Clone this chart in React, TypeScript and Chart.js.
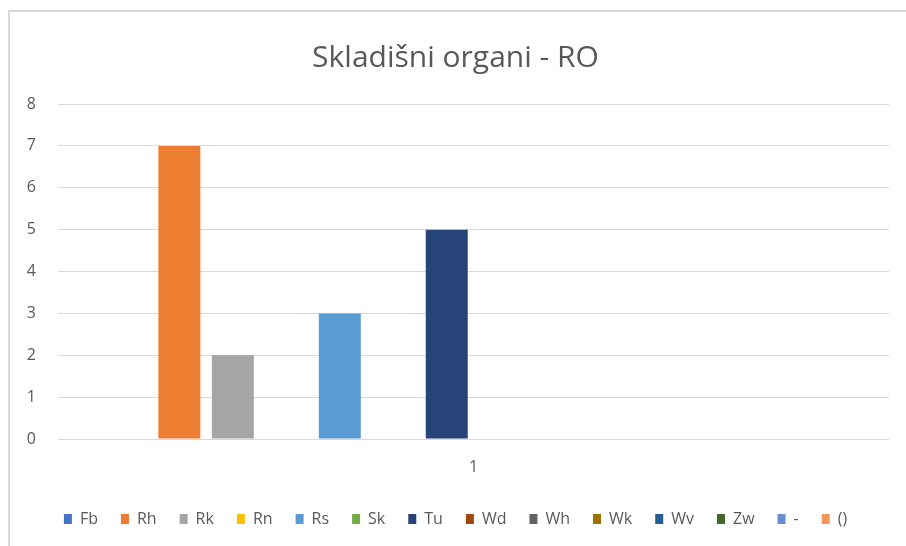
import React, { useEffect, useRef } from "react";
import { Chart, registerables } from "chart.js";

Chart.register(...registerables);

const categories = ["1"];
const seriesNames = ["Fb", "Rh", "Rk", "Rn", "Rs", "Sk", "Tu", "Wd", "Wh", "Wk", "Wv", "Zw", "-", "()"];
const seriesValues = [0, 7, 2, 0, 3, 0, 5, 0, 0, 0, 0, 0, 0, 0];
const seriesColors = [
  "#4472C4", "#ED7D31", "#A5A5A5", "#FFC000", "#5B9BD5", "#70AD47", "#264478",
  "#9E480E", "#636363", "#997300", "#255E91", "#43682B", "#698ED0", "#F1975A",
];
const yTicks = [0, 1, 2, 3, 4, 5, 6, 7, 8];
const titleText = "Skladišni organi - RO";

const FONT = "'Open Sans', sans-serif";
const TEXT = "#595959";

export default function App() {
  const ref = useRef<HTMLCanvasElement | null>(null);

  useEffect(() => {
    if (!ref.current) return;
    const chart = new Chart(ref.current, {
      type: "bar",
      data: {
        labels: categories,
        datasets: seriesNames.map((name, i) => ({
          label: name,
          data: [seriesValues[i]],
          backgroundColor: seriesColors[i],
          borderWidth: 0,
          categoryPercentage: 0.901,
          barPercentage: 0.785,
        })),
      },
      options: {
        responsive: false,
        animation: false,
        layout: { padding: { left: 22, right: 17, top: 0, bottom: 9 } },
        plugins: {
          title: {
            display: true,
            text: titleText,
            color: TEXT,
            font: { family: FONT, size: 30, weight: "normal" },
            padding: { top: 40, bottom: 28 },
          },
          legend: {
            position: "bottom",
            labels: {
              color: TEXT,
              font: { family: FONT, size: 16 },
              boxWidth: 8,
              boxHeight: 10,
              padding: 23,
            },
          },
          tooltip: { enabled: false },
        },
        scales: {
          x: {
            grid: { display: false, drawTicks: false },
            border: { display: false },
            ticks: { color: TEXT, font: { family: FONT, size: 16 }, padding: 19 },
            afterFit: (s: any) => { s.height = 49; },
          },
          y: {
            min: 0,
            max: 8,
            afterBuildTicks: (s: any) => { s.ticks = yTicks.map((v) => ({ value: v })); },
            grid: { color: "#d9d9d9", lineWidth: 1, drawTicks: false },
            border: { display: false },
            ticks: { color: TEXT, font: { family: FONT, size: 16 }, padding: 22 },
            afterFit: (s: any) => { s.width = 36; },
          },
        },
      },
    });
    return () => chart.destroy();
  }, []);

  return (
    <div style={{ position: "fixed", left: 0, top: 0, width: 906, height: 546, background: "#fff" }}>
      <canvas ref={ref} width={906} height={546} style={{ position: "absolute", left: 0, top: 0 }} />
      <div
        style={{
          position: "absolute",
          left: 8,
          top: 10,
          width: 898,
          height: 536,
          borderLeft: "2px solid #d9d9d9",
          borderTop: "2px solid #d9d9d9",
          boxSizing: "border-box",
          pointerEvents: "none",
        }}
      />
    </div>
  );
}
